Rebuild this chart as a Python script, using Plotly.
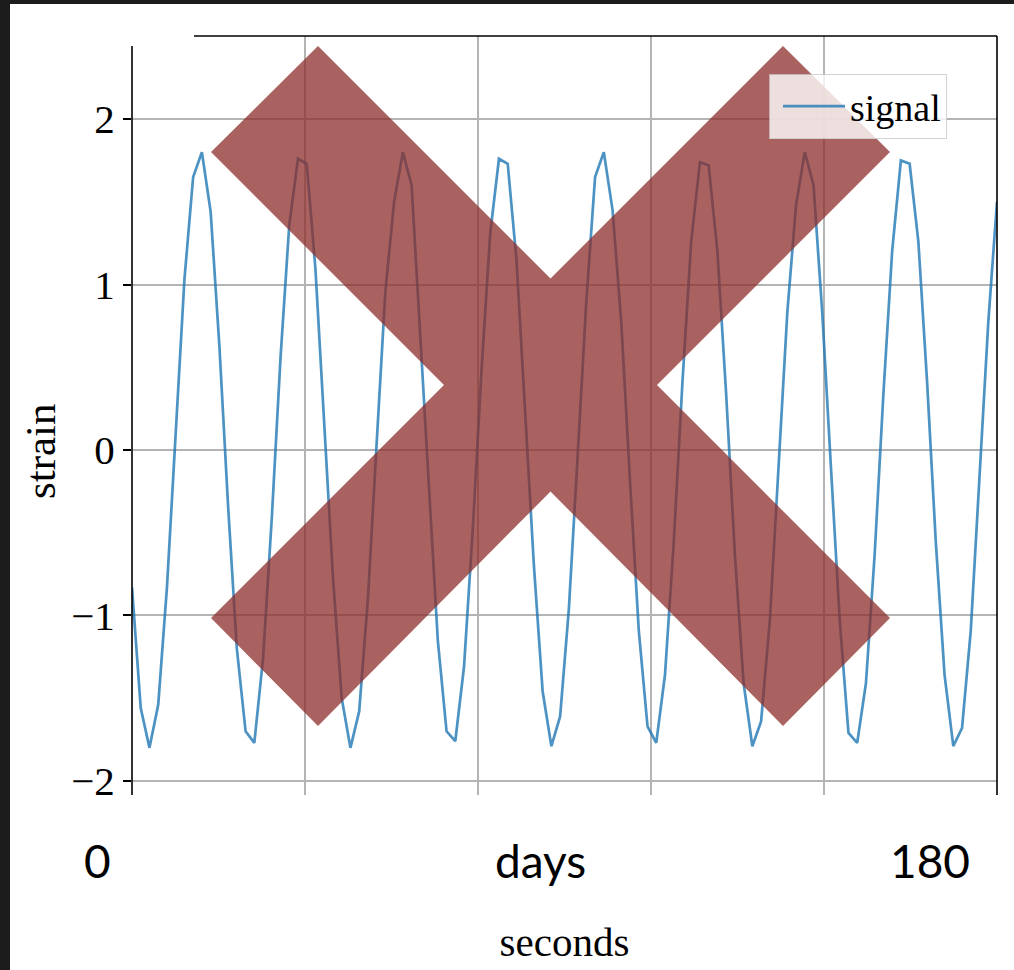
import plotly.graph_objects as go

# ---- data ----
sample = list(range(100))
strain = [-0.83, -1.56, -1.80, -1.54, -0.83, 0.11, 1.03, 1.65, 1.80, 1.44,
          0.63, -0.34, -1.20, -1.70, -1.77, -1.26, -0.41, 0.56, 1.36, 1.76,
          1.73, 1.09, 0.19, -0.77, -1.50, -1.80, -1.58, -0.90, 0.04, 0.96,
          1.50, 1.80, 1.60, 0.70, -0.26, -1.15, -1.70, -1.76, -1.31, -0.48,
          0.48, 1.31, 1.76, 1.73, 1.15, 0.26, -0.70, -1.46, -1.79, -1.61,
          -0.96, -0.04, 0.90, 1.65, 1.80, 1.45, 0.77, -0.19, -1.09, -1.67,
          -1.77, -1.36, -0.56, 0.41, 1.26, 1.74, 1.72, 1.20, 0.34, -0.63,
          -1.41, -1.79, -1.64, -1.03, -0.11, 0.83, 1.48, 1.80, 1.60, 0.83,
          -0.11, -1.03, -1.71, -1.77, -1.41, -0.63, 0.34, 1.20, 1.75, 1.73,
          1.26, 0.41, -0.56, -1.36, -1.79, -1.68, -1.09, -0.19, 0.77, 1.50]
series_name = "signal"
y_ticks = [-2, -1, 0, 1, 2]
x_grid = [0, 19.8, 39.6, 59.4, 79.2, 99]
x_range = [0, 99]
y_range = [-2.085, 2.502]
left_label, mid_label, right_label = "0", "days", "180"
x_title, y_title = "seconds", "strain"

# ---- layout geometry (pixels) ----
W, H = 1014, 970
L, R, T, B = 132, 997, 36, 795


def px(x):
    return (x - L) / (R - L)


def py(y):
    return (B - y) / (B - T)


SERIF = "Liberation Serif, DejaVu Serif, serif"
SANS = "Lato, Open Sans, sans-serif"

fig = go.Figure()
fig.add_trace(go.Scatter(
    x=sample, y=strain, mode="lines", name=series_name,
    line=dict(color="rgba(31,119,180,0.8)", width=2.7),
    showlegend=True,
))

shapes = []
# dark frame of the screenshot
shapes.append(dict(type="rect", xref="paper", yref="paper", layer="above",
                   x0=px(0), x1=px(10), y0=py(H), y1=py(0),
                   fillcolor="#1c1c1c", line=dict(width=0)))
shapes.append(dict(type="rect", xref="paper", yref="paper", layer="above",
                   x0=px(0), x1=px(W), y0=py(4), y1=py(0),
                   fillcolor="#1c1c1c", line=dict(width=0)))
# spines
spine = dict(color="black", width=1.6)
shapes.append(dict(type="line", xref="paper", yref="paper", layer="above",
                   x0=0, x1=0, y0=0, y1=py(46), line=spine))
shapes.append(dict(type="line", xref="paper", yref="paper", layer="above",
                   x0=px(194), x1=1, y0=1, y1=1, line=spine))
shapes.append(dict(type="line", xref="paper", yref="paper", layer="above",
                   x0=1, x1=1, y0=0, y1=1, line=spine))

# big red X overlay
x_pts = [(211, 152), (318, 46), (550.5, 278.5), (783, 46), (890, 152),
         (657, 385), (890, 618), (783, 726), (550.5, 491.5), (318, 726),
         (211, 618), (444, 385)]
path = "M " + " L ".join(f"{px(a):.5f},{py(b):.5f}" for a, b in x_pts) + " Z"
shapes.append(dict(type="path", xref="paper", yref="paper", layer="above",
                   path=path, fillcolor="rgba(140,45,42,0.75)",
                   line=dict(width=0)))

annotations = [
    dict(text=left_label, x=px(97), y=py(860), xref="paper", yref="paper",
         showarrow=False, xanchor="center", yanchor="middle",
         font=dict(family=SANS, size=46, color="black")),
    dict(text=mid_label, x=px(540), y=py(860), xref="paper", yref="paper",
         showarrow=False, xanchor="center", yanchor="middle",
         font=dict(family=SANS, size=46, color="black")),
    dict(text=right_label, x=px(930), y=py(860), xref="paper", yref="paper",
         showarrow=False, xanchor="center", yanchor="middle",
         font=dict(family=SANS, size=46, color="black")),
    dict(text=y_title, x=px(40), y=py(451), xref="paper", yref="paper",
         showarrow=False, xanchor="center", yanchor="middle", textangle=-90,
         font=dict(family=SERIF, size=43, color="black")),
]

fig.update_layout(
    width=W, height=H, autosize=False,
    margin=dict(l=L, r=W - R, t=T, b=H - B, pad=0),
    paper_bgcolor="white", plot_bgcolor="white",
    shapes=shapes, annotations=annotations,
    showlegend=True,
    legend=dict(x=px(769), y=py(74), xanchor="left", yanchor="top",
                bgcolor="rgba(255,255,255,0.8)",
                bordercolor="rgba(200,200,200,0.8)", borderwidth=1,
                font=dict(family=SERIF, size=38, color="black"),
                itemwidth=62, indentation=8),
    xaxis=dict(range=x_range, tickvals=x_grid, showticklabels=False,
               ticks="", showgrid=True, gridcolor="#b4b4b4", gridwidth=1.5,
               zeroline=False, showline=False,
               title=dict(text=x_title, standoff=132,
                          font=dict(family=SERIF, size=41, color="black"))),
    yaxis=dict(range=y_range, tickvals=y_ticks, ticks="outside", ticklen=8,
               tickwidth=1.5, tickcolor="black", showgrid=True,
               gridcolor="#b4b4b4", gridwidth=1.5, zeroline=False,
               showline=False,
               tickfont=dict(family=SERIF, size=41, color="black")),
)

fig.write_html("out.html")
